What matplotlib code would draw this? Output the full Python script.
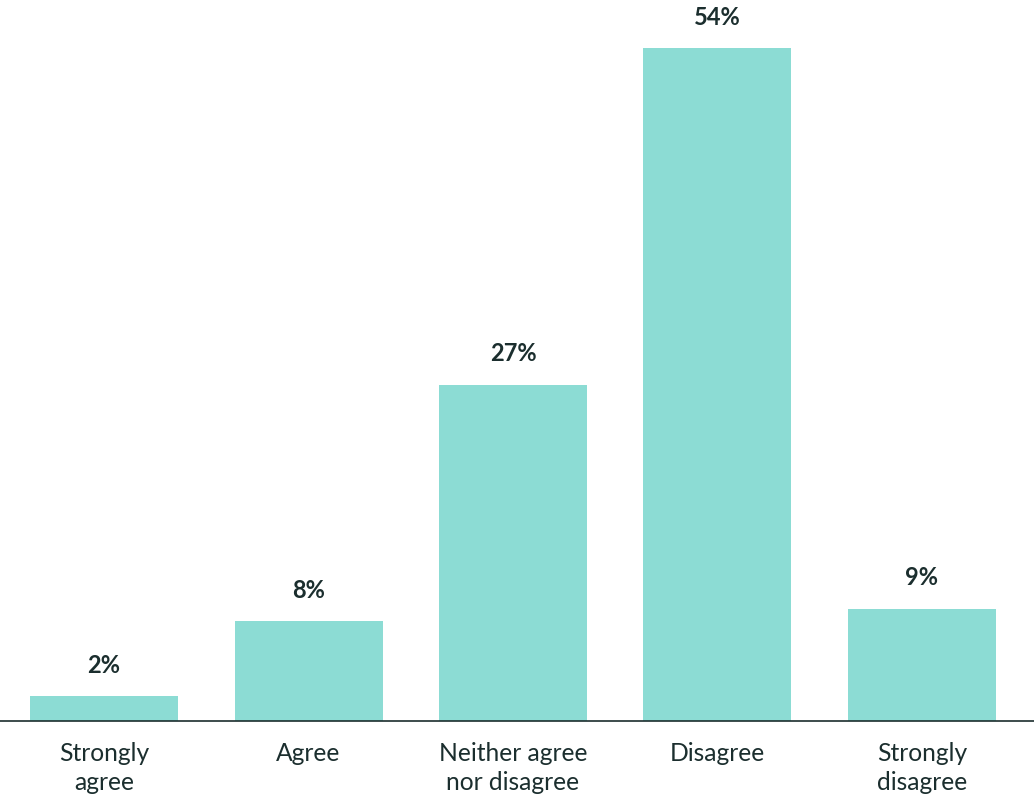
import matplotlib.pyplot as plt

categories = ['Strongly\nagree', 'Agree', 'Neither agree\nnor disagree', 'Disagree', 'Strongly\ndisagree']
values = [2, 8, 27, 54, 9]

bar_color = '#8cdcd4'
text_color = '#1b2e2e'

plt.rcParams['font.family'] = ['Lato', 'DejaVu Sans']

fig = plt.figure(figsize=(10.34, 8.01), dpi=100)
# axes placed so that baseline sits at y=721px and the 54% bar top at y=48px
ax = fig.add_axes([0, 80 / 801, 1, 673 / 801])

x = range(len(values))
ax.bar(x, values, width=0.724, color=bar_color, zorder=2)
ax.set_xlim(-0.509, 4.548)
ax.set_ylim(0, max(values))

for xi, v in zip(x, values):
    ax.annotate(f'{v}%', (xi, v), xytext=(0, 14), textcoords='offset points',
                ha='center', va='bottom', fontsize=17, fontweight='bold',
                color=text_color, annotation_clip=False)

ax.set_xticks(list(x))
ax.set_xticklabels(categories, fontsize=17.7, color=text_color, linespacing=1.35)
ax.tick_params(axis='x', length=0, pad=15)
ax.set_yticks([])

for side in ['top', 'right', 'left']:
    ax.spines[side].set_visible(False)
ax.spines['bottom'].set_color(text_color)
ax.spines['bottom'].set_linewidth(1.2)

fig.savefig('out.png', dpi=100)
